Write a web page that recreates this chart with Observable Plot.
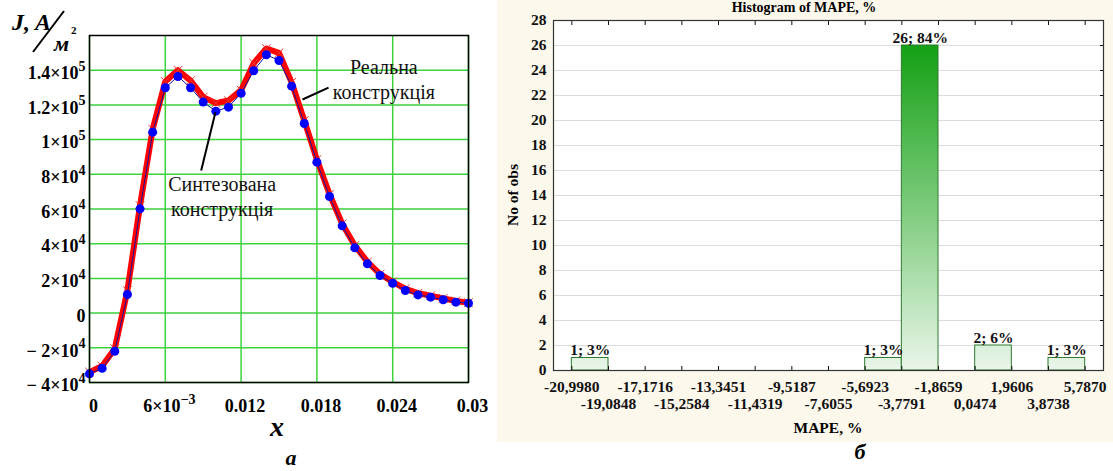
<!DOCTYPE html>
<html><head><meta charset="utf-8">
<script src="https://cdn.jsdelivr.net/npm/d3@7"></script>
<script src="https://cdn.jsdelivr.net/npm/@observablehq/plot@0.6"></script>
<style>
body{margin:0;background:#fff;}
#wrap{position:relative;width:1113px;height:471px;overflow:hidden;font-family:"Liberation Serif","Times New Roman",serif;}
#left{position:absolute;left:0;top:0;width:490px;height:471px;}
#right{position:absolute;left:497px;top:0;width:616px;height:442px;background:#fdf8ec;}
#over{position:absolute;left:0;top:0;pointer-events:none;font-family:"Liberation Serif","Times New Roman",serif;}
</style></head><body>
<div id="wrap">
<div id="left"></div>
<div id="right"></div>
<svg id="over" width="1113" height="471">
  <text x="12" y="30" font-size="24" font-weight="bold" font-style="italic">J, A</text>
  <line x1="33" y1="52" x2="64" y2="11" stroke="#000" stroke-width="2"/>
  <text x="54" y="51" font-size="22" font-weight="bold" font-style="italic">м</text>
  <text x="71" y="34" font-size="11" font-weight="bold">2</text>
  <text x="277" y="436" text-anchor="middle" font-size="28" font-weight="bold" font-style="italic">x</text>
  <text x="291" y="465" text-anchor="middle" font-size="22" font-weight="bold" font-style="italic">a</text>
  <text x="860" y="459" text-anchor="middle" font-size="22" font-weight="bold" font-style="italic">б</text>
  <text x="804" y="12" text-anchor="middle" font-size="14" font-weight="bold">Histogram of MAPE, %</text>
  <text transform="translate(518,195) rotate(-90)" text-anchor="middle" font-size="15.5" font-weight="bold">No of obs</text>
  <text x="828" y="433" text-anchor="middle" font-size="15.5" font-weight="bold">MAPE, %</text>
</svg>
</div>
<script>
// ---------- panel a: current density ----------
const xs = [0, 0.001, 0.002, 0.003, 0.004, 0.005, 0.006, 0.007, 0.008, 0.009, 0.010,
            0.011, 0.012, 0.013, 0.014, 0.015, 0.016, 0.017, 0.018, 0.019, 0.020,
            0.021, 0.022, 0.023, 0.024, 0.025, 0.026, 0.027, 0.028, 0.029, 0.030];
const jReal = [-34000, -30500, -20500, 13000, 62000, 106000, 133500, 140000, 134000, 124500, 121000,
               122500, 128500, 144000, 152500, 150000, 133000, 111000, 88500, 68500, 51500,
               39000, 29500, 22500, 18000, 14000, 11500, 10000, 8500, 7000, 6000];
const jSynth = [-35000, -31800, -22000, 10700, 60100, 104300, 129900, 136400, 129900, 121600, 116400,
                118700, 126700, 139700, 148900, 145600, 130800, 109300, 87000, 67200, 50300,
                37600, 28400, 21700, 17200, 13000, 10500, 9200, 7700, 6300, 5700];
const yTicks = [-40000, -20000, 0, 20000, 40000, 60000, 80000, 100000, 120000, 140000];
const yTickLabels = ["\u2212 4×10^4", "\u2212 2×10^4", "0", "2×10^4", "4×10^4", "6×10^4", "8×10^4", "1×10^5", "1.2×10^5", "1.4×10^5"];
const xTicks = [0, 0.006, 0.012, 0.018, 0.024, 0.03];
const xTickLabels = ["0", "6×10^\u22123", "0.012", "0.018", "0.024", "0.03"];
const annotations = [
  {x: 0.0233, y: 135500, text: "Реальна\nконструкція"},
  {x: 0.0105, y: 67500, text: "Синтезована\nконструкція"}
];
const leaders = [
  {x1: 0.01892, y1: 130000, x2: 0.01686, y2: 123100},
  {x1: 0.00884, y1: 82200, x2: 0.00997, y2: 115800}
];

// ---------- panel б: histogram ----------
const binEdgeLabels = ["-20,9980", "-19,0848", "-17,1716", "-15,2584", "-13,3451", "-11,4319", "-9,5187",
                       "-7,6055", "-5,6923", "-3,7791", "-1,8659", "0,0474", "1,9606", "3,8738", "5,7870"];
const binCounts = [1, 0, 0, 0, 0, 0, 0, 0, 1, 26, 0, 2, 0, 1];
const histYTicks = [0, 2, 4, 6, 8, 10, 12, 14, 16, 18, 20, 22, 24, 26, 28];

const real = xs.map((x, i) => ({x, j: jReal[i]}));
const synth = xs.map((x, i) => ({x, j: jSynth[i]}));
const green = "#3bd23b";

const left = Plot.plot({
  width: 490, height: 471,
  marginLeft: 89, marginRight: 22, marginTop: 35, marginBottom: 89,
  style: {fontFamily: "Liberation Serif, serif", fontSize: "18px", fontWeight: "bold", background: "transparent", color: "#000"},
  x: {domain: [0, 0.03]},
  y: {domain: [-40000, 160000]},
  marks: [
    Plot.gridX(xTicks, {stroke: green, strokeOpacity: 1, strokeWidth: 1.5}),
    Plot.gridY(yTicks, {stroke: green, strokeOpacity: 1, strokeWidth: 1.5}),
    Plot.line(real, {x: "x", y: "j", stroke: "#ff0000", strokeWidth: 6}),
    Plot.dot(real, {x: "x", y: "j", symbol: "times", stroke: "#e23a3a", r: 4, strokeWidth: 1}),
    Plot.line(synth, {x: "x", y: "j", stroke: "#1515a0", strokeWidth: 1}),
    Plot.dot(synth, {x: "x", y: "j", fill: "#0000ff", stroke: "none", r: 4.5}),
    Plot.link(leaders, {x1: "x1", y1: "y1", x2: "x2", y2: "y2", stroke: "#000", strokeWidth: 2}),
    Plot.text(annotations, {x: "x", y: "y", text: "text", fontSize: 20, fontWeight: "normal", lineHeight: 1.25, fill: "#111"}),
    Plot.axisX(xTicks, {label: null, tickSize: 0, tickPadding: 17, dx: 4, fontSize: 18,
      tickFormat: d => xTickLabels[xTicks.indexOf(d)]}),
    Plot.axisY(yTicks, {label: null, tickSize: 0, tickPadding: 4, dy: 3, fontSize: 18,
      tickFormat: d => yTickLabels[yTicks.indexOf(d)]}),
    Plot.frame({stroke: "#000", strokeWidth: 1.5})
  ]
});
// superscripts for the exponent tick labels
d3.select(left).selectAll("text").each(function() {
  const t = this.textContent;
  if (t.includes("^")) {
    const [b, s] = t.split("^");
    const el = d3.select(this);
    el.text(b);
    el.append("tspan").attr("dy", "-0.6em").attr("font-size", "0.78em").text(s);
  }
});
document.getElementById("left").appendChild(left);

const edges = binEdgeLabels.map(s => +s.replace(",", "."));
const bw = edges[1] - edges[0];
const total = d3.sum(binCounts);
const bins = binCounts.map((c, i) => ({x1: edges[i], x2: edges[i + 1], c})).filter(b => b.c > 0);
const lab = d => binEdgeLabels[edges.indexOf(d)];

const right = Plot.plot({
  width: 616, height: 442,
  marginLeft: 56, marginRight: 10, marginTop: 20, marginBottom: 72,
  style: {fontFamily: "Liberation Serif, serif", fontSize: "15.5px", fontWeight: "bold", background: "transparent", color: "#111"},
  x: {domain: [edges[0] - bw / 2, edges[edges.length - 1] + bw / 2]},
  y: {domain: [0, 28]},
  marks: [
    Plot.frame({fill: "#fff", stroke: "none"}),
    Plot.gridY(histYTicks.slice(1, -1), {stroke: "#dcdcdc", strokeOpacity: 1, strokeWidth: 1.2}),
    Plot.rectY(bins, {x1: "x1", x2: "x2", y: "c", inset: 0, fill: "url(#barGrad)", stroke: "#2f7a2f", strokeWidth: 1}),
    Plot.text(bins, {x: d => (d.x1 + d.x2) / 2, y: "c", text: d => `${d.c}; ${Math.round(d.c / total * 100)}%`,
      dy: -3, lineAnchor: "bottom", fontSize: 15.5, fill: "#111"}),
    Plot.axisY(histYTicks, {label: null, tickSize: 0, tickPadding: 7, fontSize: 15.5}),
    Plot.axisY(histYTicks, {label: null, anchor: "right", tickSize: -4, tickFormat: () => ""}),
    Plot.axisX(edges, {label: null, anchor: "top", tickSize: -4, tickFormat: () => ""}),
    Plot.axisX(edges, {label: null, anchor: "bottom", tickSize: -4, tickFormat: () => ""}),
    Plot.axisX(edges.filter((d, i) => i % 2 === 0), {label: null, tickSize: 0, tickPadding: 10.5, fontSize: 15.5, tickFormat: lab}),
    Plot.axisX(edges.filter((d, i) => i % 2 === 1), {label: null, tickSize: 0, tickPadding: 27, fontSize: 15.5, tickFormat: lab}),
    Plot.frame({stroke: "#333", strokeWidth: 1.2})
  ]
});
const ys = right.scale("y");
const grad = d3.select(right).insert("defs", ":first-child").append("linearGradient")
  .attr("id", "barGrad").attr("gradientUnits", "userSpaceOnUse")
  .attr("x1", 0).attr("x2", 0).attr("y1", ys.apply(26)).attr("y2", ys.apply(0));
grad.append("stop").attr("offset", 0).attr("stop-color", "#14a014");
grad.append("stop").attr("offset", 0.5).attr("stop-color", "#7ccb7c");
grad.append("stop").attr("offset", 1).attr("stop-color", "#eaf6ea");
document.getElementById("right").appendChild(right);
</script>
</body></html>
